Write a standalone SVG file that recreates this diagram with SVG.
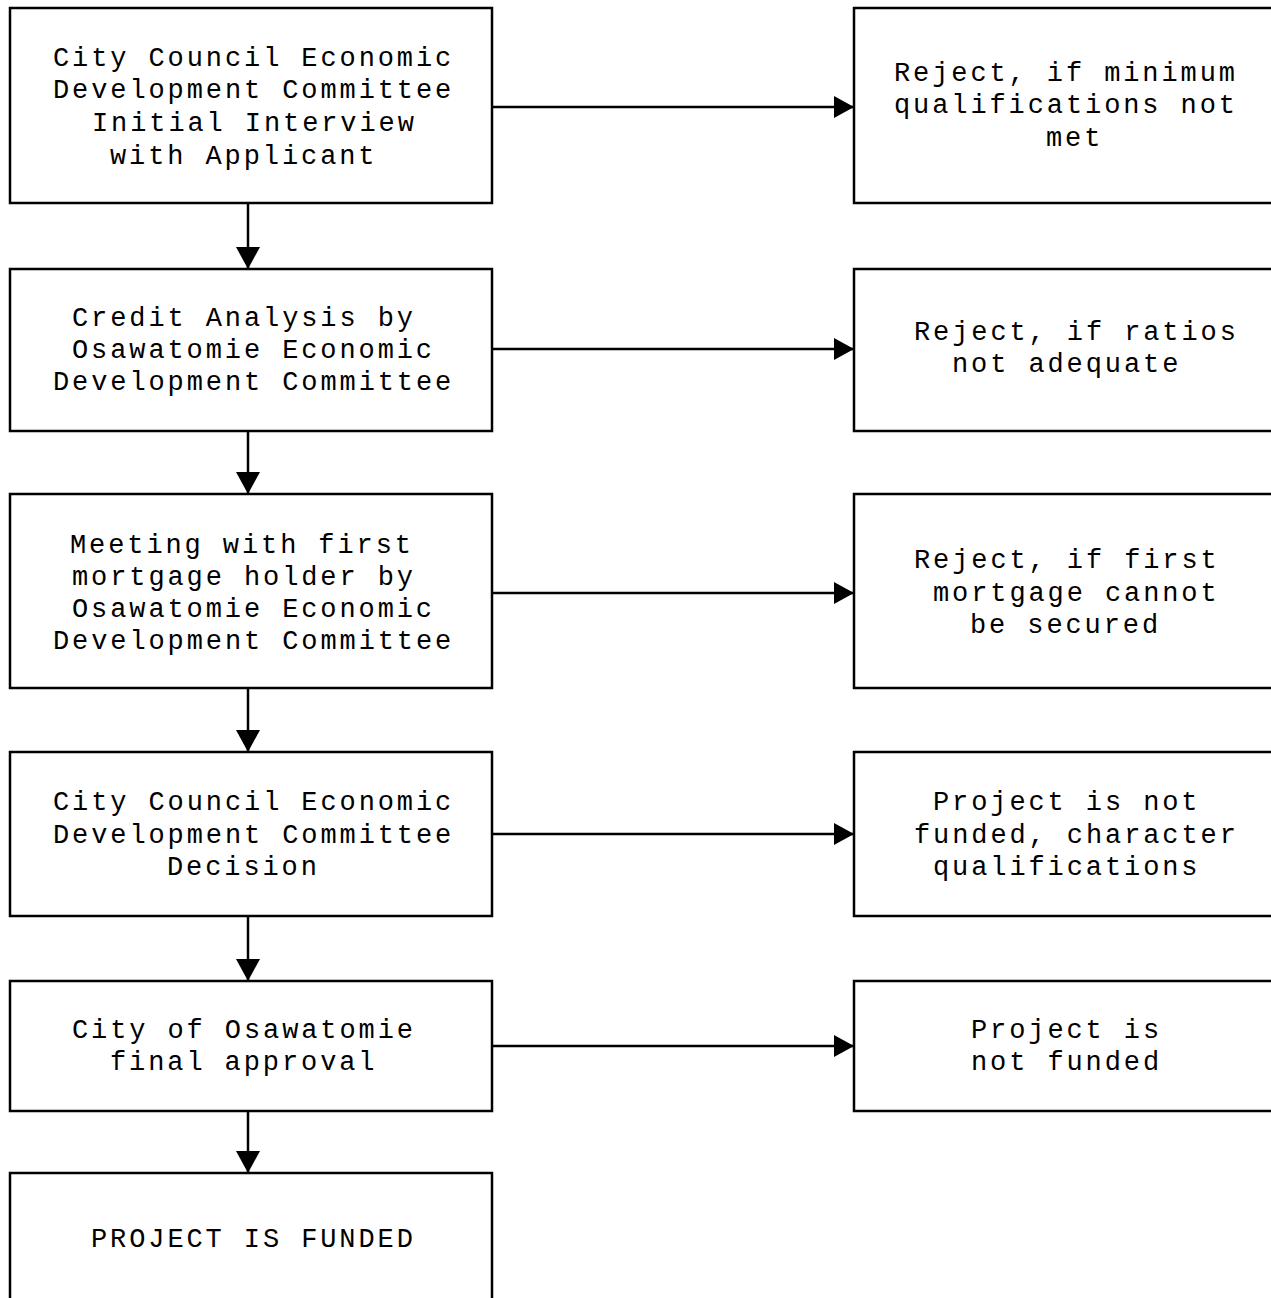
<svg xmlns="http://www.w3.org/2000/svg" width="1271" height="1298" viewBox="0 0 1271 1298">
<style>
.box{fill:#fff;stroke:#000;stroke-width:2.5}
.t{font-family:"Liberation Mono","Courier New",monospace;font-size:27px;letter-spacing:2.9px;fill:#000}
.c{stroke:#000;stroke-width:2.5;fill:none}
</style>
<defs>
<marker id="ah" markerWidth="20" markerHeight="22" refX="20" refY="11" orient="auto" markerUnits="userSpaceOnUse">
<path d="M0,0 L20,11 L0,22 Z" fill="#000"/>
</marker>
<marker id="av" markerWidth="22" markerHeight="24" refX="22" refY="12" orient="auto" markerUnits="userSpaceOnUse">
<path d="M0,0 L22,12 L0,24 Z" fill="#000"/>
</marker>
</defs>
<rect width="1271" height="1298" fill="#fff"/>

<g id="n1">
<rect class="box" x="10" y="8" width="482" height="195"/>
<text class="t" x="53" y="66">City Council Economic</text>
<text class="t" x="53" y="98">Development Committee</text>
<text class="t" x="92" y="131">Initial Interview</text>
<text class="t" x="110" y="164">with Applicant</text>
</g>
<g id="r1">
<rect class="box" x="854" y="8" width="440" height="195"/>
<text class="t" x="894" y="81">Reject, if minimum</text>
<text class="t" x="894" y="113">qualifications not</text>
<text class="t" x="1046" y="146">met</text>
</g>

<g id="n2">
<rect class="box" x="10" y="269" width="482" height="162"/>
<text class="t" x="72" y="326">Credit Analysis by</text>
<text class="t" x="72" y="358">Osawatomie Economic</text>
<text class="t" x="53" y="390">Development Committee</text>
</g>
<g id="r2">
<rect class="box" x="854" y="269" width="440" height="162"/>
<text class="t" x="914" y="340">Reject, if ratios</text>
<text class="t" x="952" y="372">not adequate</text>
</g>

<g id="n3">
<rect class="box" x="10" y="494" width="482" height="194"/>
<text class="t" x="70" y="553">Meeting with first</text>
<text class="t" x="72" y="585">mortgage holder by</text>
<text class="t" x="72" y="617">Osawatomie Economic</text>
<text class="t" x="53" y="649">Development Committee</text>
</g>
<g id="r3">
<rect class="box" x="854" y="494" width="440" height="194"/>
<text class="t" x="914" y="568">Reject, if first</text>
<text class="t" x="933" y="601">mortgage cannot</text>
<text class="t" x="970" y="633">be secured</text>
</g>

<g id="n4">
<rect class="box" x="10" y="752" width="482" height="164"/>
<text class="t" x="53" y="810">City Council Economic</text>
<text class="t" x="53" y="843">Development Committee</text>
<text class="t" x="167" y="875">Decision</text>
</g>
<g id="r4">
<rect class="box" x="854" y="752" width="440" height="164"/>
<text class="t" x="933" y="810">Project is not</text>
<text class="t" x="914" y="843">funded, character</text>
<text class="t" x="933" y="875">qualifications</text>
</g>

<g id="n5">
<rect class="box" x="10" y="981" width="482" height="130"/>
<text class="t" x="72" y="1038">City of Osawatomie</text>
<text class="t" x="110" y="1070">final approval</text>
</g>
<g id="r5">
<rect class="box" x="854" y="981" width="440" height="130"/>
<text class="t" x="971" y="1038">Project is</text>
<text class="t" x="971" y="1070">not funded</text>
</g>

<g id="n6">
<rect class="box" x="10" y="1173" width="482" height="160"/>
<text class="t" x="91" y="1247">PROJECT IS FUNDED</text>
</g>

<g id="connectors">
<line class="c" x1="492" y1="107" x2="854" y2="107" marker-end="url(#ah)"/>
<line class="c" x1="492" y1="349" x2="854" y2="349" marker-end="url(#ah)"/>
<line class="c" x1="492" y1="593" x2="854" y2="593" marker-end="url(#ah)"/>
<line class="c" x1="492" y1="834" x2="854" y2="834" marker-end="url(#ah)"/>
<line class="c" x1="492" y1="1046" x2="854" y2="1046" marker-end="url(#ah)"/>
<line class="c" x1="248" y1="203" x2="248" y2="269" marker-end="url(#av)"/>
<line class="c" x1="248" y1="431" x2="248" y2="494" marker-end="url(#av)"/>
<line class="c" x1="248" y1="688" x2="248" y2="752" marker-end="url(#av)"/>
<line class="c" x1="248" y1="916" x2="248" y2="981" marker-end="url(#av)"/>
<line class="c" x1="248" y1="1111" x2="248" y2="1173" marker-end="url(#av)"/>
</g>
</svg>
